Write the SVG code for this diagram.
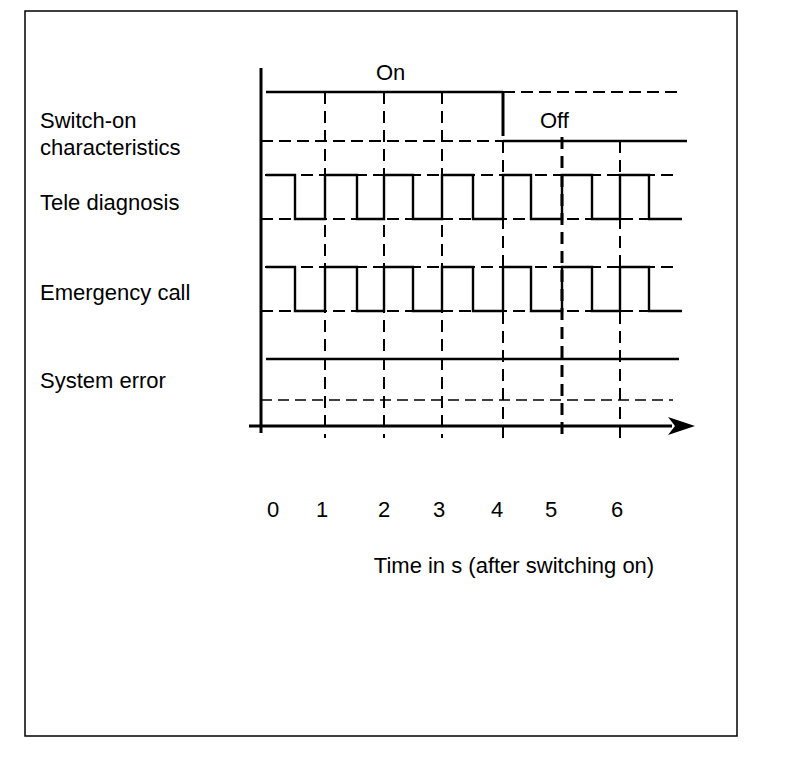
<svg xmlns="http://www.w3.org/2000/svg" width="800" height="764" viewBox="0 0 800 764">
<style>
text{font-family:"Liberation Sans",Arial,sans-serif;font-size:22px;fill:#000}
.ax{stroke:#000;stroke-width:3;fill:none}
.sig{stroke:#000;stroke-width:2.4;fill:none}
.dh{stroke:#000;stroke-width:2;stroke-dasharray:12 6;fill:none}
.dv{stroke:#000;stroke-width:2;stroke-dasharray:12 7;fill:none}
.dvt{stroke:#000;stroke-width:3;stroke-dasharray:12 7;fill:none}
.dthin{stroke:#000;stroke-width:1.4;stroke-dasharray:11 6;fill:none}
</style>
<rect x="0" y="0" width="800" height="764" fill="#fff"/>
<rect x="25" y="11" width="712" height="725" fill="none" stroke="#000" stroke-width="1.5"/>
<g id="labels">
<text x="40" y="128">Switch-on</text>
<text x="40" y="155">characteristics</text>
<text x="40" y="210">Tele diagnosis</text>
<text x="40" y="300">Emergency call</text>
<text x="40" y="388">System error</text>
<text x="376" y="80">On</text>
<text x="540" y="128">Off</text>
</g>
<g id="ticks" text-anchor="middle">
<text x="273" y="517">0</text>
<text x="322" y="517">1</text>
<text x="384" y="517">2</text>
<text x="439" y="517">3</text>
<text x="497" y="517">4</text>
<text x="551" y="517">5</text>
<text x="617" y="517">6</text>
<text x="514" y="573">Time in s (after switching on)</text>
</g>
<g id="grid">
<path class="dv" d="M325 92V438M384 92V438M442 92V438M503 141V438M620 141V440"/>
<path class="dvt" d="M562 137V441"/>
<path class="dh" d="M503 92H678M261 141H503"/>
<path class="dh" d="M265 175H673M261 219H682"/>
<path class="dh" d="M265 267H673M261 311H682"/>
<path class="dthin" d="M261 400H673"/>
</g>
<g id="switch-on">
<path class="sig" d="M266 92H503"/>
<path class="ax" d="M503 92V136"/>
<path class="sig" d="M503 141H687"/>
</g>
<g id="tele-diagnosis">
<path class="sig" d="M266 175H295V219H325V175H357V219H384V175H413V219H442V175H473V219H503V175H531V219H562V175H592V219H620V175H649V219H682"/>
</g>
<g id="emergency-call">
<path class="sig" d="M266 267H295V311H325V267H357V311H384V267H413V311H442V267H473V311H503V267H531V311H562V267H592V311H620V267H649V311H682"/>
</g>
<g id="system-error">
<path class="sig" d="M266 359H679"/>
</g>
<g id="axes">
<path class="ax" d="M261 68V433"/>
<path class="ax" d="M249 426H672"/>
<polygon points="668,417 695,426 668,435 675,426" fill="#000"/>
</g>
</svg>
